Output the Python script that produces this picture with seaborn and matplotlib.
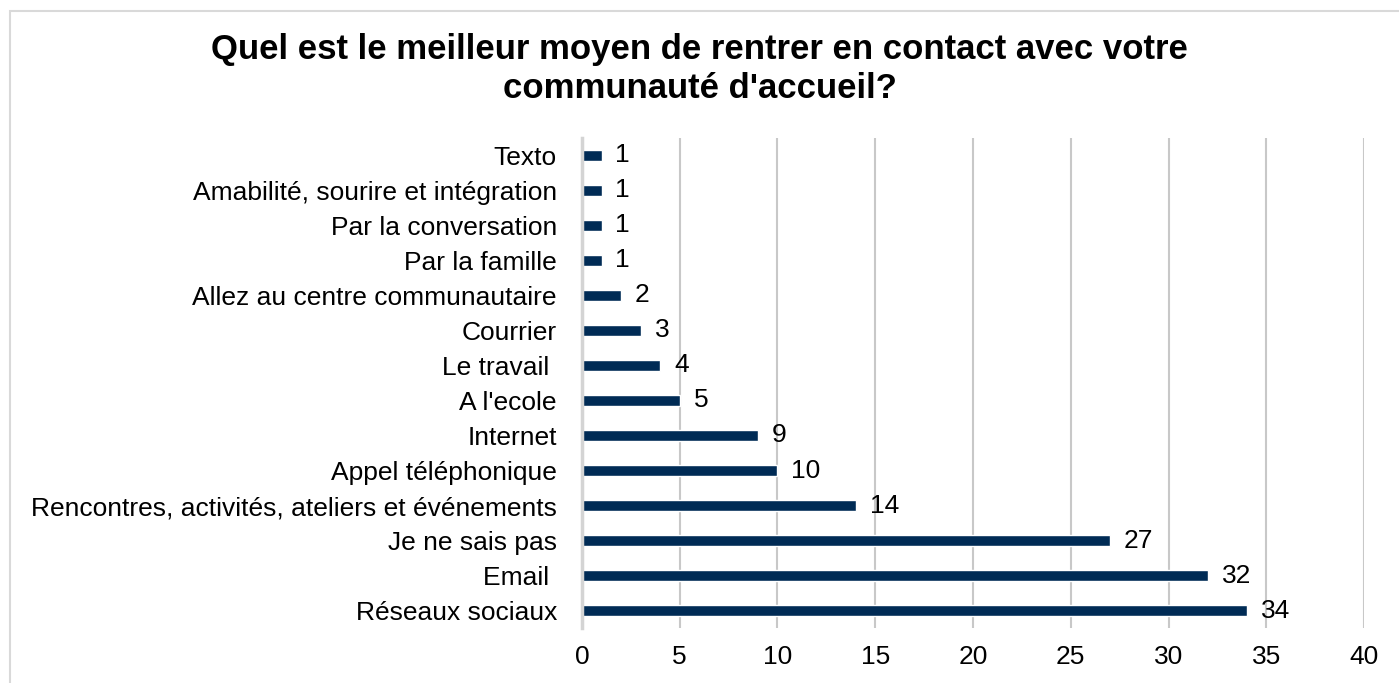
import matplotlib
matplotlib.use("Agg")
import matplotlib.pyplot as plt
import seaborn as sns
import pandas as pd
from matplotlib.patches import Rectangle

categories = ["Texto", "Amabilité, sourire et intégration", "Par la conversation",
              "Par la famille", "Allez au centre communautaire", "Courrier",
              "Le travail ", "A l'ecole", "Internet", "Appel téléphonique",
              "Rencontres, activités, ateliers et événements", "Je ne sais pas",
              "Email ", "Réseaux sociaux"]
counts = [1, 1, 1, 1, 2, 3, 4, 5, 9, 10, 14, 27, 32, 34]
xticks = [0, 5, 10, 15, 20, 25, 30, 35, 40]

df = pd.DataFrame({"reponse": categories, "n": counts})

sns.set_style("white")
plt.rcParams['font.family'] = ['Liberation Sans', 'DejaVu Sans']
plt.rcParams['text.color'] = 'black'
plt.rcParams['xtick.color'] = 'black'
plt.rcParams['ytick.color'] = 'black'

fig = plt.figure(figsize=(13.99, 6.83), dpi=100)
ax = fig.add_axes([0.416, 0.0805, 0.559, 0.7175])

sns.barplot(data=df, x="n", y="reponse", color="#002B55", width=0.31,
            saturation=1, ax=ax, zorder=3)

for c in ax.containers:
    ax.bar_label(c, labels=[str(v) for v in counts], padding=10, fontsize=19, color="black")

ax.set_xlim(0, 40)
ax.set_ylim(13.5, -0.5)
ax.set_xticks(xticks)
ax.set_xticklabels([str(t) for t in xticks], fontsize=19)
ax.tick_params(axis="y", labelsize=19, length=0, pad=18)
ax.tick_params(axis="x", length=0, pad=12)
ax.set_xlabel("")
ax.set_ylabel("")
ax.grid(axis="x", color="#c8c8c8", linewidth=1.5, zorder=0)
for s in ["top", "right", "bottom"]:
    ax.spines[s].set_visible(False)
ax.spines["left"].set_color("#d4d4d4")
ax.spines["left"].set_linewidth(2.5)
ax.spines["left"].set_zorder(4)

fig.text(0.5, 0.899, "Quel est le meilleur moyen de rentrer en contact avec votre\ncommunauté d'accueil?",
         ha="center", va="center", fontsize=25, fontweight="bold", linespacing=1.25)

fig.patches.append(Rectangle((10 / 1399, -0.1), 1.2, 1 - 11 / 683 + 0.1, transform=fig.transFigure,
                             fill=False, edgecolor="#d9d9d9", linewidth=1.5))

fig.savefig("out.png", dpi=100)
